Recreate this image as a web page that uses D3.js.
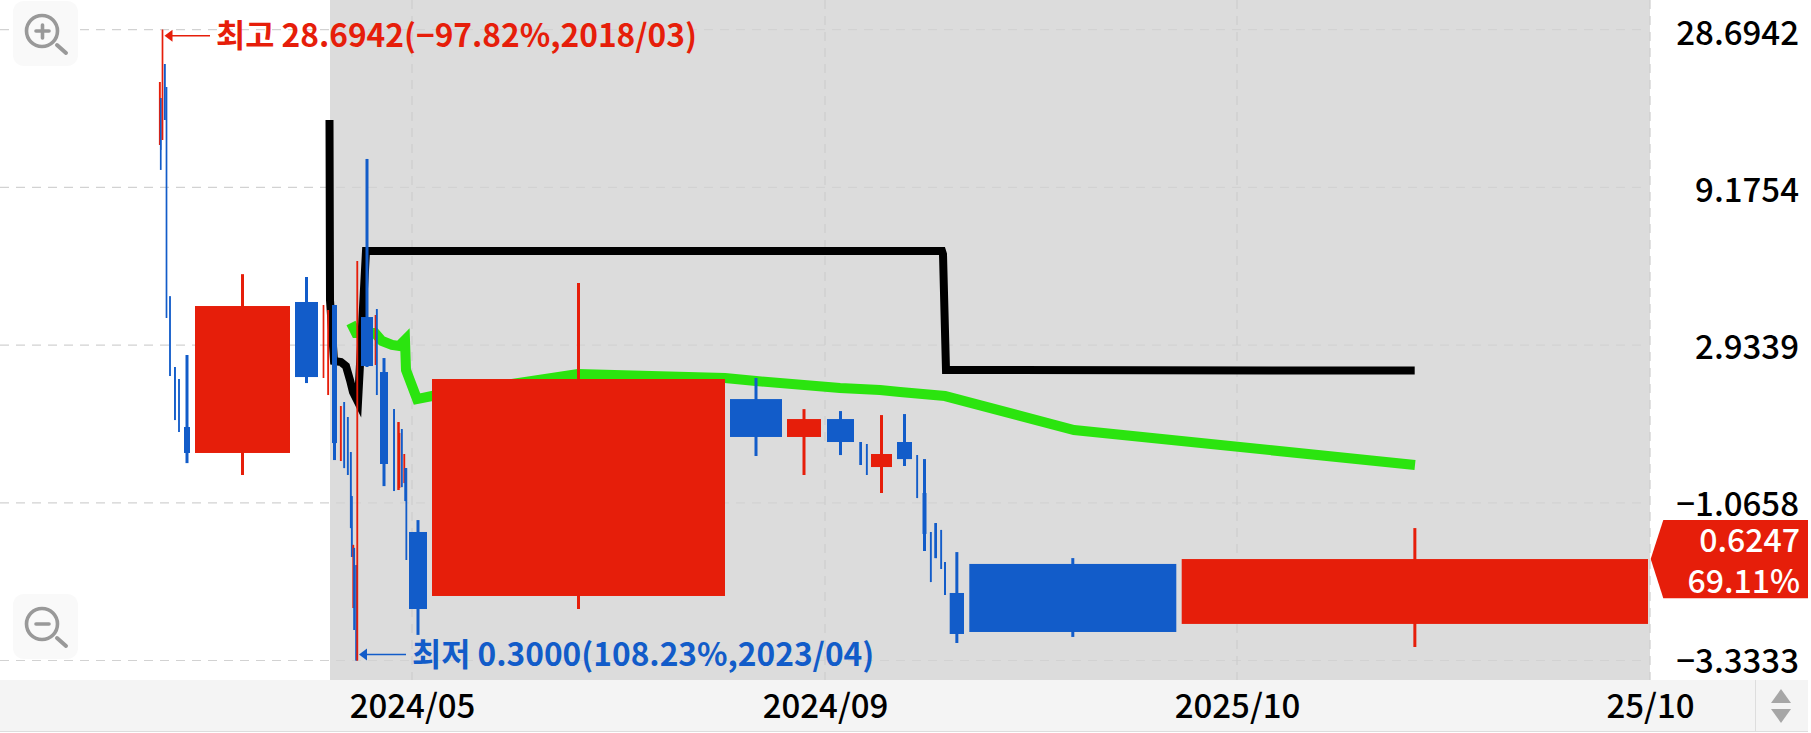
<!DOCTYPE html>
<html><head><meta charset="utf-8">
<script src="https://cdn.jsdelivr.net/npm/d3@7"></script>
<style>html,body{margin:0;padding:0;background:#fff;overflow:hidden}svg{display:block}
text{font-family:"Noto Sans CJK KR","Noto Sans",sans-serif}</style></head><body>
<svg id="c" width="1811" height="733"></svg>
<script>
// cumulative traded-volume extent of each candle (equivolume chart)
const volumeStart=[0,1,3,5,7,10.5,15.2,19.5,25,36,136,164,168.5,173,181,184.5,188,191,192,193.7,194.5,196.5,197.7,202,216,217,221,234.3,238.5,240,242,244.7,245.5,246.8,250,273,571,628,668,700.5,707,712,738,757.5,763.5,771,775.5,781.5,785,790.7,810.3,1022.7];
const volumeEnd=[1.5,2.5,4,6.5,8,11.5,16.7,20.5,31,131,159,165,170,178,182.5,186,189.5,192.5,193.5,195,196,198,199,214,217,218.5,229,235.8,240.5,241,243.5,246,247.5,248,268,566,623,662,695,703,708.5,733,753,759,767.5,772.5,778,783,787,805,1017.3,1489];
const opens=[12.47,17.51,12.93,22.39,18.96,4.18,2.504,2.296,1.623,1.345,4.007,2.313,2.045,3.92,1.269,1.944,1.744,1.354,.985,.4384,.677,.598,.3,3.594,2.541,3.808,2.415,1.847,1.029,1.044,1.599,1.082,1.206,1.206,.7597,.4783,1.986,1.51,1.719,1.456,1.435,1.215,1.456,1.325,1.007,.7597,.81,.771,.6115,.4888,.603,.3908];
const highs=[19.66,17.51,28.6942,22.39,18.96,4.18,2.504,2.296,2.731,4.9,4.8,3.92,3.781,3.92,1.888,1.944,1.744,1.354,.985,.692,.677,.598,5.389,11.27,3.647,3.808,2.672,1.847,1.682,1.554,1.599,1.335,1.206,1.206,.828,4.597,2.313,1.847,1.821,1.456,1.435,1.769,1.782,1.325,1.287,.7597,.81,.771,.6115,.657,.629,.7815];
const lows=[12.47,10.41,12.93,14.94,3.57,2.346,1.706,1.565,1.25,1.147,2.23,2.313,2.045,1.278,1.269,1.206,1.147,.7815,.634,.4384,.374,.3,.3,2.504,2.541,2.045,1.0585,1.0215,1.029,1.044,1.051,1.082,.95,.6205,.361,.4353,1.316,1.147,1.325,1.233,1.147,1.007,1.224,.971,.662,.529,.629,.5815,.4817,.3405,.3557,.3308];
const closes=[19.66,12.03,28.6942,14.94,3.57,2.346,1.706,1.565,1.345,3.892,2.329,3.92,3.781,1.445,1.888,1.206,1.147,.7815,.634,.692,.374,.3,5.389,2.522,3.647,2.045,1.242,1.0215,1.682,1.554,1.051,1.335,.95,.6205,.4353,2.296,1.51,1.719,1.456,1.233,1.147,1.335,1.287,.971,.749,.529,.629,.5815,.4817,.3634,.3687,.6247];

const blackVol=[170.5,171,175,182,187,191,194,199,207,783,784,787,1255.7];
const blackVal=[14.94,4.065,2.615,2.596,2.522,2.279,2.09,1.944,5.79,5.79,5.66,2.45,2.44];
const greenVol=[192,197,216,223,233,240,246,247,258,273,419,566,597,681,721,741,786,915,1256];
const greenVal=[3.442,3.2,3.2,3.023,2.937,2.915,3.044,2.451,1.986,2.03,2.38,2.313,2.262,2.151,2.12,2.09,2.03,1.588,1.233];

const yTickValues=[28.6942,9.1754,2.9339,0.9382,0.3];
const yTickLabels=["28.6942","9.1754","2.9339","−1.0658","−3.3333"];
const xTickValues=[253,666,1078,1491];
const xTickLabels=["2024/05","2024/09","2025/10","25/10"];
const shadeFromVol=171;
const lastPrice=0.6247, lastPct="69.11%";
const highLabel="최고 28.6942(−97.82%,2018/03)", highVol=5.5, highVal=28.6942;
const lowLabel="최저 0.3000(108.23%,2023/04)", lowVol=200, lowVal=0.3;

const RED="#e61e0a",BLUE="#125cc9",W=1811,H=733;
const plotR=1650,plotB=680,stripR=1808;
const x=d3.scaleLinear().domain([0,1489]).range([159,1648]);
const y=d3.scaleLog().domain([0.3,28.6942]).range([660.5,29.7]);
const svg=d3.select("#c");

// plot background
svg.append("rect").attr("x",x(shadeFromVol)).attr("y",0).attr("width",plotR-x(shadeFromVol)).attr("height",plotB).attr("fill","#dcdcdc");
// bottom bar
svg.append("rect").attr("x",0).attr("y",plotB).attr("width",stripR).attr("height",H-plotB-1).attr("fill","#f4f4f4");
svg.append("line").attr("x1",0).attr("x2",stripR).attr("y1",H-1.5).attr("y2",H-1.5).attr("stroke","#dddddd");

// grid
svg.append("g").selectAll("line").data(yTickValues).join("line")
 .attr("x1",0).attr("x2",plotR-4).attr("y1",d=>y(d)).attr("y2",d=>y(d))
 .attr("stroke","#d2d2d2").attr("stroke-width",1.2).attr("stroke-dasharray","9 7");
svg.append("g").selectAll("line").data(xTickValues).join("line")
 .attr("x1",d=>x(d)).attr("x2",d=>x(d)).attr("y1",0).attr("y2",plotB)
 .attr("stroke","#cdcdcd").attr("stroke-width",1.2).attr("stroke-dasharray","9 7");

// zoom buttons
function zoomBtn(top,plus){
 const g=svg.append("g");
 g.append("rect").attr("x",13).attr("y",top).attr("width",65).attr("height",65).attr("rx",11).attr("fill","#f9f9f9");
 g.append("circle").attr("cx",42).attr("cy",top+30).attr("r",15.5).attr("fill","none").attr("stroke","#999").attr("stroke-width",3.6);
 g.append("line").attr("x1",57).attr("y1",top+44).attr("x2",66).attr("y2",top+52).attr("stroke","#999").attr("stroke-width",4).attr("stroke-linecap","round");
 g.append("line").attr("x1",36).attr("x2",49).attr("y1",top+30).attr("y2",top+30).attr("stroke","#999").attr("stroke-width",3.6).attr("stroke-linecap","round");
 if(plus)g.append("line").attr("x1",42.5).attr("x2",42.5).attr("y1",top+24).attr("y2",top+37).attr("stroke","#999").attr("stroke-width",3.6).attr("stroke-linecap","round");
}
zoomBtn(1,true);zoomBtn(594,false);

// lines (under the candles)
const lineGen=d3.line().x(d=>x(d[0])).y(d=>y(d[1]));
svg.append("path").attr("d",lineGen(d3.zip(greenVol,greenVal))).attr("fill","none").attr("stroke","#2be40f").attr("stroke-width",10).attr("stroke-linejoin","miter");
svg.append("path").attr("d",lineGen(d3.zip(blackVol,blackVal))).attr("fill","none").attr("stroke","#000").attr("stroke-width",8).attr("stroke-linejoin","miter");

// candles
const idx=d3.range(opens.length);
const col=i=>closes[i]>=opens[i]?RED:BLUE;
const gc=svg.append("g");
idx.forEach(i=>{
 const x0=x(volumeStart[i]),x1=x(volumeEnd[i]),w=x1-x0,cx=(x0+x1)/2;
 gc.append("line").attr("x1",cx).attr("x2",cx).attr("y1",y(highs[i])).attr("y2",y(lows[i]))
  .attr("stroke",col(i)).attr("stroke-width",Math.max(1.7,Math.min(w,3)));
 const t=y(Math.max(opens[i],closes[i])),b=y(Math.min(opens[i],closes[i]));
 gc.append("rect").attr("x",x0).attr("y",t).attr("width",w).attr("height",b-t).attr("fill",col(i));
});

// high / low annotations
function note(vol,val,dy,txt,color,tx){
 const px=x(vol),py=y(val)+dy;
 const g=svg.append("g");
 g.append("line").attr("x1",px+6).attr("x2",tx-6).attr("y1",py).attr("y2",py).attr("stroke",color).attr("stroke-width",1.5);
 g.append("path").attr("d",`M${px},${py}L${px+8},${py-6}L${px+8},${py+6}Z`).attr("fill",color);
 g.append("text").attr("x",tx).attr("y",py).attr("dy","0.36em").attr("fill",color).attr("font-size",31.7).attr("font-weight",700).text(txt);
}
note(highVol,highVal,6,highLabel,RED,216);
note(lowVol,lowVal,-6,lowLabel,BLUE,412);

// axes
const yLabelNudge=[-9,2,2,1,0];
const axisY=d3.axisRight(y).tickValues(yTickValues).tickFormat((d,i)=>yTickLabels[i]).tickSize(0).tickPadding(0);
const gy=svg.append("g").attr("transform",`translate(1799,0)`).call(axisY);
gy.select(".domain").remove();
gy.selectAll("text").attr("text-anchor","end").attr("x",0).attr("fill","#000").attr("font-size",33).attr("font-weight",500)
 .attr("font-family",'"Noto Sans CJK KR"').attr("dy",(d,i)=>i==0?"0.72em":"0.36em").attr("y",(d,i)=>yLabelNudge[i]);
const axisX=d3.axisBottom(x).tickValues(xTickValues).tickFormat((d,i)=>xTickLabels[i]).tickSize(0).tickPadding(0);
const gx=svg.append("g").attr("transform",`translate(0,${plotB})`).call(axisX);
gx.select(".domain").remove();
gx.selectAll("text").attr("fill","#000").attr("font-size",33).attr("font-weight",500).attr("font-family",'"Noto Sans CJK KR"').attr("dy",0).attr("y",38);

// last price tag
const ty=y(lastPrice);
svg.append("path").attr("d",`M1650.7,${ty}L1663.3,520L${stripR},520L${stripR},598.3L1663.3,598.3Z`).attr("fill",RED);
svg.append("text").attr("x",1800).attr("y",540).attr("dy","0.36em").attr("text-anchor","end").attr("fill","#fff").attr("font-size",32).attr("font-weight",500).text(lastPrice.toFixed(4));
svg.append("text").attr("x",1800).attr("y",581).attr("dy","0.36em").attr("text-anchor","end").attr("fill","#fff").attr("font-size",32).attr("font-weight",500).text(lastPct);

// scroll control
svg.append("line").attr("x1",1755.5).attr("x2",1755.5).attr("y1",plotB).attr("y2",H-2).attr("stroke","#dddddd");
svg.append("path").attr("d","M1781,689L1791,703L1771,703Z").attr("fill","#a6a6a6");
svg.append("path").attr("d","M1771,709L1791,709L1781,723Z").attr("fill","#a6a6a6");
</script></body></html>
